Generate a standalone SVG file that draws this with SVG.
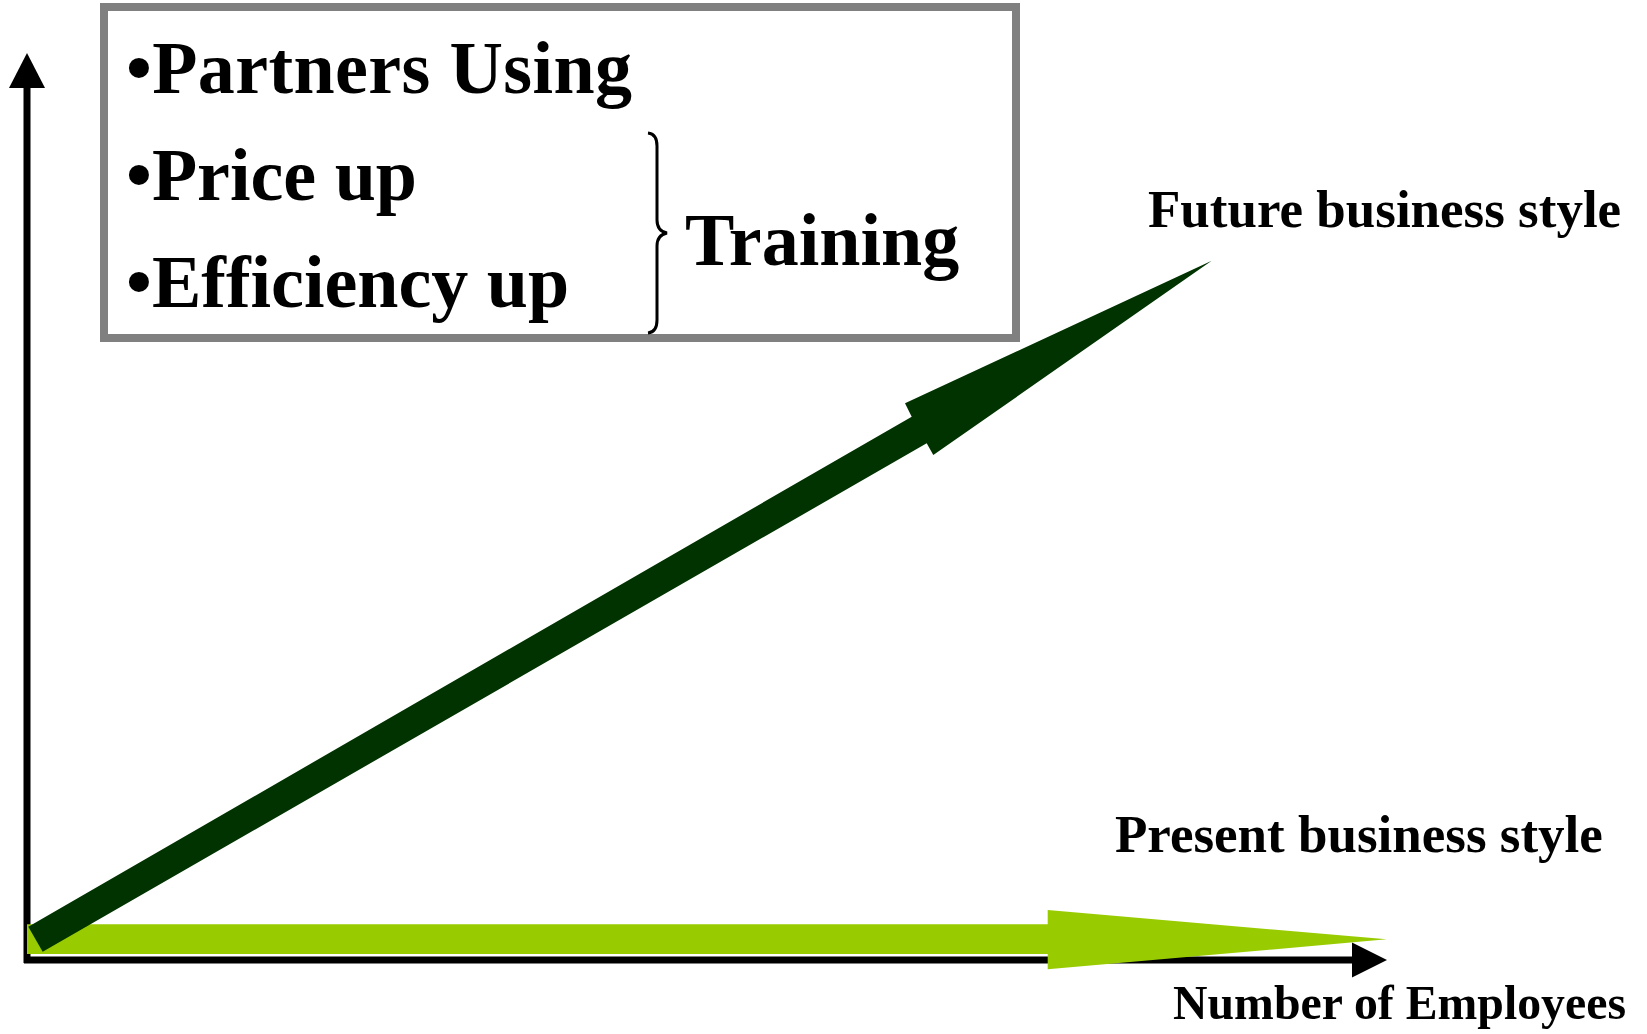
<svg xmlns="http://www.w3.org/2000/svg" width="1647" height="1034" viewBox="0 0 1647 1034">
<style>
.t{font-family:"Liberation Serif","Times New Roman",serif;font-weight:bold;fill:#000}
.big{font-size:74px}
.lbl{font-size:53px}
.axis{stroke:#000;stroke-width:7;fill:none}
.head{fill:#000}
</style>
<rect width="1647" height="1034" fill="#fff"/>
<g id="box">
<rect x="104" y="7" width="912" height="331" fill="#fff" stroke="#808080" stroke-width="8"/>
<text class="t big" x="126" y="93" textLength="506">•Partners Using</text>
<text class="t big" x="126" y="200">•Price up</text>
<text class="t big" x="126" y="307">•Efficiency up</text>
<path d="M648 133 Q657 134 657 146 L657 220 Q657 231 667 233 Q657 235 657 246 L657 320 Q657 332 648 333" fill="none" stroke="#000" stroke-width="3"/>
<text class="t big" x="685" y="265">Training</text>
</g>
<g id="connectors">
<line class="axis" x1="27" y1="85" x2="27" y2="963"/>
<polygon class="head" points="27,53 45,88 9,88"/>
<line class="axis" x1="24" y1="960" x2="1355" y2="960"/>
<polygon class="head" points="1387,960 1352,942.5 1352,977.5"/>
<polygon id="present-arrow" fill="#99CC00" points="27,924.3 1047.7,924.3 1047.7,910 1386.7,939.3 1047.7,969.3 1047.7,954 27,954"/>
<polygon id="future-arrow" fill="#003300" points="28.3,926.7 911.7,416.7 905,403.3 1211.7,260.7 933.3,455 926.7,443.3 42.7,951.7"/>
</g>
<g id="future-label"><text class="t lbl" x="1148" y="227">Future business style</text></g>
<g id="present-label"><text class="t lbl" x="1115" y="852">Present business style</text></g>
<g id="x-axis-label"><text class="t" font-size="49" x="1173" y="1019" textLength="453" lengthAdjust="spacingAndGlyphs">Number of Employees</text></g>
</svg>
